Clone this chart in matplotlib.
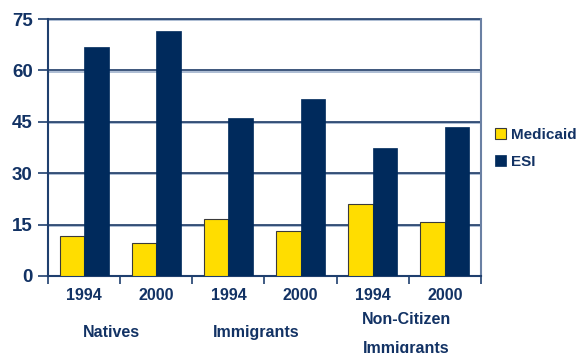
import numpy as np
import matplotlib
matplotlib.use('Agg')
import matplotlib.pyplot as plt

# 数据
years = ['1994', '2000', '1994', '2000', '1994', '2000']
groups = ['Natives', 'Immigrants', 'Non-Citizen\n\nImmigrants']
medicaid = [11.7, 9.5, 16.5, 13.1, 21.0, 15.7]
esi = [66.8, 71.4, 46.0, 51.6, 37.3, 43.5]
yticks = [0, 15, 30, 45, 60, 75]

navy = '#002a5c'
yellow = '#ffdd00'
txt = '#123264'

plt.rcParams['font.family'] = ['Liberation Sans', 'DejaVu Sans']
plt.rcParams['font.weight'] = 'bold'

fig = plt.figure(figsize=(5.77, 3.53), dpi=100)
ax = fig.add_axes([48/577, 1-276/353, (481-48)/577, (276-19)/353])

x = np.arange(len(years))
w = 0.34
ax.bar(x - w/2, medicaid, w, color=yellow, edgecolor='#3a3a3a', linewidth=0.8, label='Medicaid', zorder=3)
ax.bar(x + w/2, esi, w, color=navy, edgecolor=navy, linewidth=0.5, label='ESI', zorder=3)

ax.set_xlim(-0.5, len(years) - 0.5)
ax.set_ylim(0, 75)
ax.set_yticks(yticks)
ax.set_yticklabels([str(v) for v in yticks], fontsize=13.5, color=txt, fontweight='bold')
ax.set_xticks(x)
ax.set_xticklabels(years, fontsize=11.5, color=txt, fontweight='bold')
ax.set_xticks(np.arange(len(years) + 1) - 0.5, minor=True)
ax.tick_params(axis='x', which='major', length=0, pad=9)
ax.tick_params(axis='x', which='minor', length=6, width=1.2, color='#1f3f6e')
ax.tick_params(axis='y', length=7, width=1.2, color='#1f3f6e', pad=4)

# 网格线
for v in yticks[1:]:
    ax.axhline(v - 0.35, color='#9fb2cc', lw=1.2, zorder=1)
    ax.plot([0, 1], [v, v], color='#1c3a66', lw=1.2, zorder=2, transform=ax.get_yaxis_transform(),
            clip_on=False)

ax.spines['top'].set_visible(False)
ax.spines['left'].set_color('#1f3f6e')
ax.spines['left'].set_linewidth(1.5)
ax.spines['right'].set_color('#6a80a3')
ax.spines['right'].set_linewidth(1.5)
ax.spines['bottom'].set_color('#1f3f6e')
ax.spines['bottom'].set_linewidth(1.5)

# 分组标签
for i, g in enumerate(groups):
    cx = 2 * i + 0.5
    if '\n' in g:
        ax.text(cx - 0.03, -17.0, g, ha='center', va='center', fontsize=11.5, color=txt,
                fontweight='bold', linespacing=0.95, clip_on=False)
    else:
        ax.text(cx - 0.12, -16.4, g, ha='center', va='center', fontsize=11.5, color=txt,
                fontweight='bold', clip_on=False)

leg = fig.legend(loc='upper left', bbox_to_anchor=(489/577, 1-122/353), frameon=False,
                 fontsize=11, handlelength=0.7, handleheight=0.7, handletextpad=0.35,
                 labelspacing=0.85, borderaxespad=0)
for t in leg.get_texts():
    t.set_color(txt)
    t.set_fontweight('bold')

fig.savefig('out.png', dpi=100)
